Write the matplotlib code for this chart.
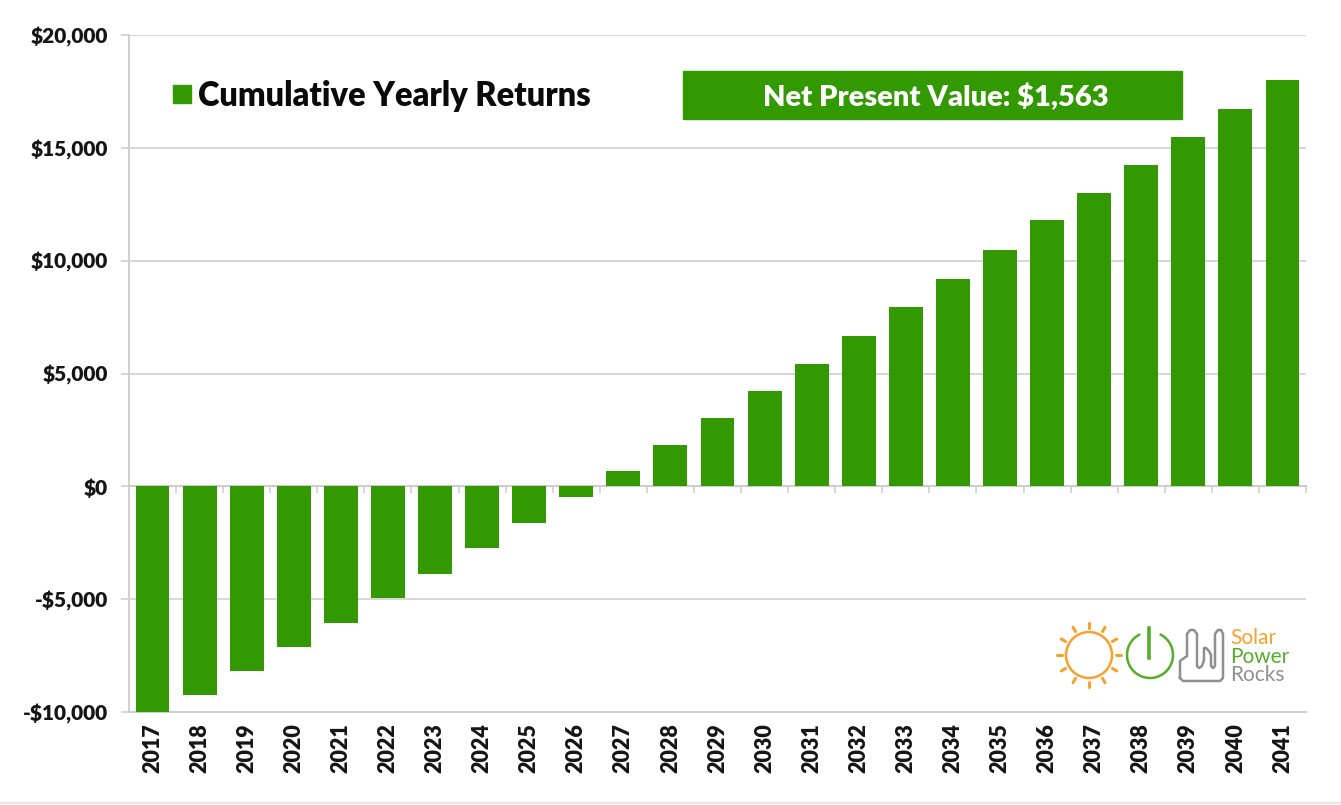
import numpy as np
import matplotlib
matplotlib.use("Agg")
import matplotlib.pyplot as plt
from matplotlib.patches import Rectangle, Circle, Arc

years = list(range(2017, 2042))
returns = [-10000, -9260, -8200, -7130, -6070, -4960, -3900, -2750, -1640, -490,
           660, 1820, 3010, 4210, 5400, 6650, 7930, 9170, 10460, 11790,
           12980, 14220, 15460, 16700, 17990]
y_ticks = [-10000, -5000, 0, 5000, 10000, 15000, 20000]
y_labels = ["-$10,000", "-$5,000", "$0", "$5,000", "$10,000", "$15,000", "$20,000"]
legend_label = "Cumulative Yearly Returns"
npv_label = "Net Present Value: $1,563"
logo_words = ["Solar", "Power", "Rocks"]

GREEN = "#339900"
GRID = "#cfcfcf"
W, H = 1341, 805
plt.rcParams['font.family'] = ['Lato', 'DejaVu Sans']

fig = plt.figure(figsize=(W / 100, H / 100), dpi=100, facecolor="white")
ax = fig.add_axes([129 / W, 1 - 712 / H, (1306 - 129) / W, (712 - 35) / H])
x = np.arange(len(years))
ax.bar(x, returns, width=0.72, color=GREEN, zorder=3)
ax.set_xlim(-0.5, len(years) - 0.5)
ax.set_ylim(-10000, 20000)
ax.set_yticks(y_ticks, y_labels, fontsize=15, fontweight="heavy", color="#151515")
ax.set_xticks(x, [str(v) for v in years], rotation=90, fontsize=15.5, fontweight="heavy", color="#151515")
ax.tick_params(axis="x", length=0, pad=8)
ax.tick_params(axis="y", length=6, width=1.2, color=GRID, pad=9)
ax.grid(axis="y", color=GRID, lw=1.2, zorder=0)
ax.set_axisbelow(True)
for s in ("top", "right"):
    ax.spines[s].set_visible(False)
for s in ("left", "bottom"):
    ax.spines[s].set_color(GRID)
    ax.spines[s].set_linewidth(1.4)

zero = ax.secondary_xaxis(1 / 3)
zero.set_xticks(np.arange(len(years) + 1) - 0.5, [""] * (len(years) + 1))
zero.tick_params(axis="x", direction="out", length=5, width=1.2, color=GRID, top=False, bottom=True, labeltop=False, labelbottom=False)
zero.spines["bottom"].set_color("#c4c4c4")
zero.spines["bottom"].set_linewidth(1.4)
zero.spines["top"].set_visible(False)

ov = fig.add_axes([0, 0, 1, 1], facecolor="none")
ov.set_xlim(0, W)
ov.set_ylim(H, 0)
ov.axis("off")

ov.add_patch(Rectangle((173, 85), 18, 18, color=GREEN))
ov.text(198, 96, legend_label, fontsize=23.5, fontweight="heavy", color="#0a0a0a", va="center", ha="left")
ov.add_patch(Rectangle((683, 71), 499, 48, color=GREEN))
ov.text(936, 97, npv_label, fontsize=21, fontweight="heavy", color="white", va="center", ha="center")

# logo
ORANGE = "#f7a12c"
LG = "#55ad2a"
GREY = "#8f8f8f"
sx, sy = 1089, 655
ov.add_patch(Circle((sx, sy), 23, fill=False, ec=ORANGE, lw=1.8))
for a in np.deg2rad(np.arange(0, 360, 30)):
    ov.plot([sx + 27 * np.cos(a), sx + 32 * np.cos(a)], [sy + 27 * np.sin(a), sy + 32 * np.sin(a)],
            color=ORANGE, lw=2.2, solid_capstyle="round")
ov.add_patch(Arc((1150, 655), 46, 46, theta1=-65, theta2=245, ec=LG, lw=1.8))
ov.plot([1149, 1149], [628, 658], color=LG, lw=2.6)
hx = [1180, 1180, 1187, 1187, 1190, 1194, 1197, 1197, 1199, 1202, 1204, 1204, 1206, 1209, 1211, 1211, 1213,
      1215, 1215, 1218, 1221, 1223, 1223, 1220, 1183, 1180]
hy = [678, 661, 656, 634, 630, 630, 634, 666, 668, 666, 660, 648, 648, 651, 655, 666, 668, 666, 634, 630,
      630, 634, 678, 681, 681, 678]
ov.plot(hx, hy, color=GREY, lw=1.8)
for word, c, yy in zip(logo_words, [ORANGE, LG, GREY], [638, 657, 675]):
    ov.text(1230, yy, word, fontsize=15, color=c, va="center", ha="left", fontweight="normal")

ov.plot([0, W], [803, 803], color="#e6e6e6", lw=1.5)
fig.savefig("out.png", dpi=100, facecolor="white")
